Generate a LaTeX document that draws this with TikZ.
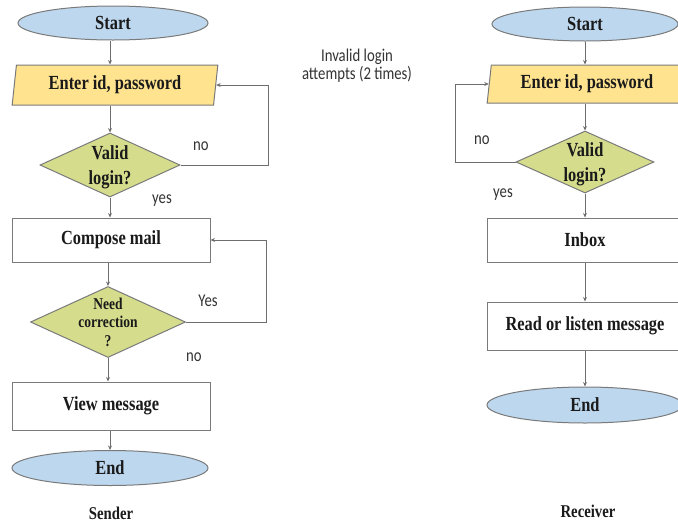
\documentclass[tikz,border=0pt]{standalone}
\usepackage{fontspec}
\usetikzlibrary{shapes.geometric,arrows.meta}
\newfontfamily\boxfont{Liberation Serif}[FakeStretch=0.82]
\newfontfamily\labfont{Carlito}[FakeStretch=0.82]
\definecolor{ovalfill}{HTML}{BDD7EE}
\definecolor{inputfill}{HTML}{FFE38F}
\definecolor{decfill}{HTML}{D5DD8C}
\definecolor{edge}{HTML}{7A7A7A}
\definecolor{wire}{HTML}{6E6E6E}
\definecolor{ink}{HTML}{1A1A1A}
\definecolor{labink}{HTML}{333333}
\tikzset{
  x=1pt, y=-1pt,
  boxtext/.style={font=\boxfont\bfseries\fontsize{20}{24}\selectfont, text=ink, align=center},
  oval/.style={ellipse, draw=edge, line width=1pt, fill=ovalfill, inner sep=0pt, boxtext},
  inputbox/.style={trapezium, trapezium left angle=81, trapezium right angle=99,
    trapezium stretches=true, draw=edge, line width=1pt, fill=inputfill, inner sep=0pt, boxtext},
  process/.style={rectangle, draw=edge, line width=1pt, fill=white, inner sep=0pt, boxtext},
  decision/.style={diamond, draw=edge, line width=1pt, fill=decfill, inner sep=0pt},
  lab/.style={font=\labfont\fontsize{18}{20}\selectfont, text=labink, align=center},
  arr/.style={draw=wire, line width=0.9pt, -{Stealth[length=4.5pt,width=4pt]}},
}
\begin{document}
\begin{tikzpicture}
\useasboundingbox (0,0) rectangle (678,523);

% Sender flow
\node[oval, minimum width=190, minimum height=34] (start1) at (113,23) {Start};
\node[inputbox, minimum width=206, minimum height=40] (enter1) at (115,85) {Enter id, password};
\node[decision, minimum width=140, minimum height=64] (valid1) at (110,165) {};
\node[boxtext, font=\boxfont\bfseries\fontsize{20}{25}\selectfont] (valid1t) at (110,167) {Valid\\login?};
\node[process, minimum width=198, minimum height=44] (compose) at (111,240) {Compose mail};
\node[decision, minimum width=155, minimum height=71] (corr) at (108,322) {};
\node[boxtext, font=\boxfont\bfseries\fontsize{16.5}{18.5}\selectfont] (corrt) at (108,322) {Need\\correction\\?};
\node[process, minimum width=198, minimum height=48] (view) at (111,406) {View message};
\node[oval, minimum width=196, minimum height=35] (end1) at (110,468) {End};
\node[boxtext, font=\boxfont\bfseries\fontsize{18}{22}\selectfont] (sender) at (111,513) {Sender};

\draw[arr] (start1.south -| valid1.north) -- (valid1.north |- enter1.north);
\draw[arr] (valid1.north |- enter1.south) -- (valid1.north);
\draw[arr] (valid1.south) -- (valid1.south |- compose.north);
\draw[arr] (corr.north |- compose.south) -- (corr.north);
\draw[arr] (corr.south) -- (corr.south |- view.north);
\draw[arr] (end1.north |- view.south) -- (end1.north);
\draw[arr] (valid1.east) -- ++(88,0) |- (enter1.east);
\draw[arr] (corr.east) -- ++(80,0) |- (compose.east);

\node[lab] (no1) at (201,146) {no};
\node[lab] (yes1) at (162,201) {yes};
\node[lab] (yes2) at (208,301) {Yes};
\node[lab] (no2) at (194,357) {no};
\node[lab, font=\labfont\fontsize{18}{18}\selectfont] (invalid) at (357,66) {Invalid login\\attempts (2 times)};

% Receiver flow
\node[oval, minimum width=186, minimum height=34] (start2) at (585,24) {Start};
\node[inputbox, minimum width=200, minimum height=38] (enter2) at (587,84) {Enter id, password};
\node[decision, minimum width=138, minimum height=62] (valid2) at (585,162) {};
\node[boxtext, font=\boxfont\bfseries\fontsize{20}{25}\selectfont] (valid2t) at (585,164) {Valid\\login?};
\node[process, minimum width=196, minimum height=44] (inbox) at (585,240) {Inbox};
\node[process, minimum width=196, minimum height=48] (read) at (585,326) {Read or listen message};
\node[oval, minimum width=196, minimum height=36] (end2) at (585,405) {End};
\node[boxtext, font=\boxfont\bfseries\fontsize{18}{22}\selectfont] (receiver) at (588,511) {Receiver};

\draw[arr] (start2.south) -- (start2.south |- enter2.north);
\draw[arr] (valid2.north |- enter2.south) -- (valid2.north);
\draw[arr] (valid2.south) -- (inbox.north);
\draw[arr] (inbox.south) -- (read.north);
\draw[arr] (read.south) -- (end2.north);
\draw[arr] (valid2.west) -- ++(-60,0) |- (enter2.west);

\node[lab] (no3) at (482,140) {no};
\node[lab] (yes3) at (503,195) {yes};
\end{tikzpicture}
\end{document}
